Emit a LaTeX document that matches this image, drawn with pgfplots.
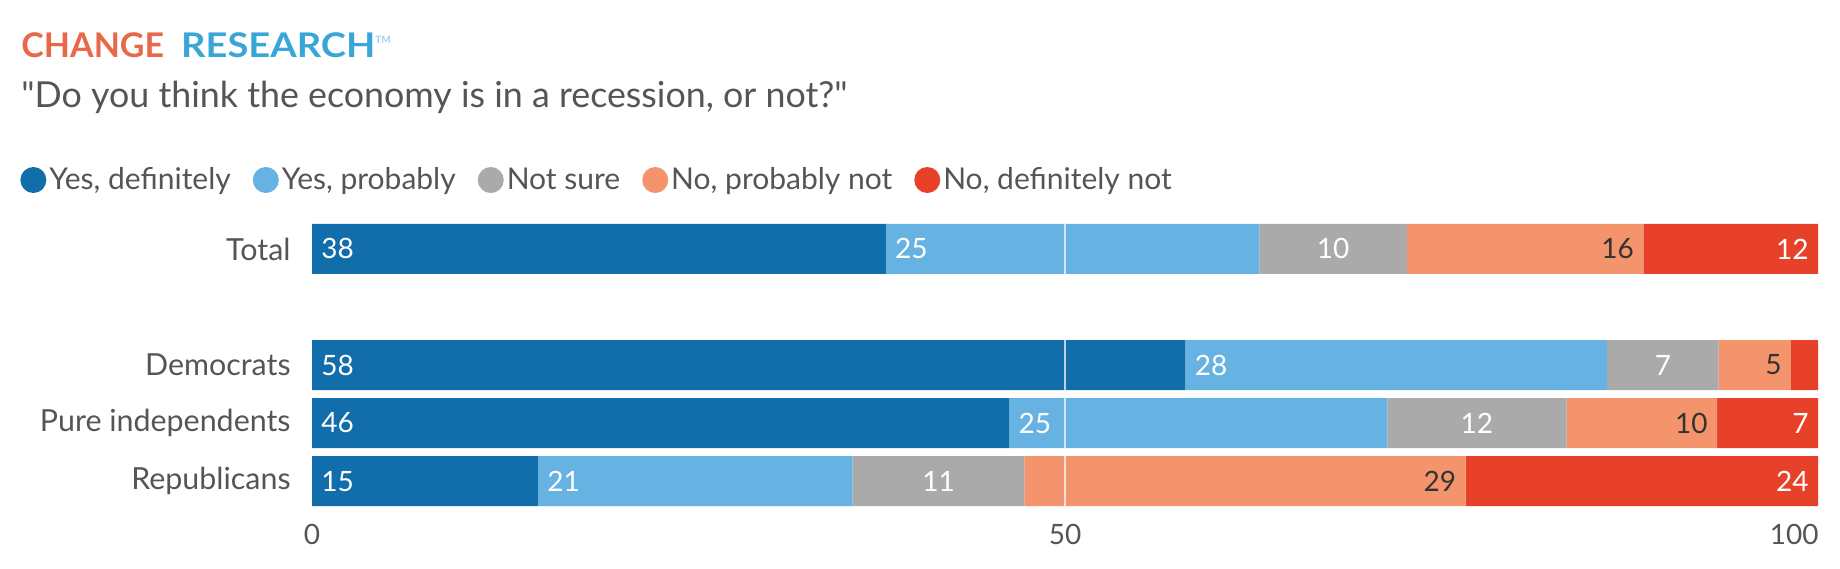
\documentclass[border=0pt]{standalone}
\usepackage{pgfplots}
\pgfplotsset{compat=1.18}
\usepackage{pgfplotstable}
\usepackage{fontspec}
\setmainfont{Lato}
\newfontfamily\latoq{Lato}
\definecolor{c1}{HTML}{116EAA}
\definecolor{c2}{HTML}{66B3E3}
\definecolor{c3}{HTML}{AAAAAA}
\definecolor{c4}{HTML}{F4946C}
\definecolor{c5}{HTML}{E8412A}
\definecolor{txt}{HTML}{555555}
\definecolor{dtxt}{HTML}{333333}
\definecolor{logoor}{HTML}{E8684A}
\definecolor{logobl}{HTML}{3AA6D8}
\pgfplotsset{dotleg/.style={legend image code/.code={\fill[##1] (6.5pt,0pt) circle (6.5pt);}}}
\pgfplotstableread{
y v1 v2 v3 v4 v5
0 15.0 20.9 11.4 29.3 23.4
1 46.3 25.1 11.9 10.0 6.7
2 58.0 28.0 7.4 4.8 1.8
4 38.1 24.8 9.8 15.7 11.6
}\bars
\pgfplotstableread{
x y lab
0 4 38
38.1 4 25
0 2 58
58.0 2 28
0 1 46
46.3 1 25
0 0 15
15.0 0 21
}\leftlabs
\pgfplotstableread{
x y lab
67.8 4 10
89.7 2 7
77.35 1 12
41.6 0 11
}\midlabs
\pgfplotstableread{
x y lab
88.4 4 16
98.2 2 5
93.3 1 10
76.6 0 29
}\orlabs
\pgfplotstableread{
x y lab
100 4 12
100 1 7
100 0 24
}\redlabs
\begin{document}
\begin{tikzpicture}
\useasboundingbox (0pt,0pt) rectangle (920pt,-284pt);
\node[anchor=west, inner sep=0, font=\fontsize{17}{17}\selectfont\bfseries] at (10.5pt,-22.5pt)
  {\textcolor{logoor}{CHANGE}\hspace{8.5pt}\textcolor{logobl}{\scalebox{1.12}[1]{RESEARCH}}\raisebox{7pt}{\textcolor{logobl!50}{\fontsize{5}{5}\selectfont TM}}};
\node[anchor=west, inner sep=0, text=txt, font=\latoq\fontsize{17.9}{17.9}\selectfont] at (10.5pt,-48.5pt)
  {"Do you think the economy is in a recession, or not?"};
\begin{axis}[
  at={(156pt,-256.5pt)}, anchor=south west, scale only axis,
  width=753pt, height=148pt,
  xbar stacked, bar width=25pt,
  xmin=0, xmax=100, ymin=-0.55, ymax=4.55,
  axis line style={draw=none}, major tick length=0pt,
  xtick={0,50}, ytick={0,1,2,4},
  extra x ticks={100},
  extra x tick style={xticklabel style={anchor=north east, xshift=0.5pt}},
  yticklabels={Republicans,Pure independents,Democrats,Total},
  /pgf/number format/assume math mode=true,
  xticklabel style={font=\fontsize{14}{14}\selectfont, text=txt, inner sep=0pt, yshift=-5.5pt},
  yticklabel style={font=\fontsize{15.2}{15.2}\selectfont, text=txt, inner sep=0pt, anchor=east, xshift=-10.5pt},
]
\addplot[fill=c1, draw=none] table[x=v1,y=y]{\bars};
\addplot[fill=c2, draw=none] table[x=v2,y=y]{\bars};
\addplot[fill=c3, draw=none] table[x=v3,y=y]{\bars};
\addplot[fill=c4, draw=none] table[x=v4,y=y]{\bars};
\addplot[fill=c5, draw=none] table[x=v5,y=y]{\bars};
\end{axis}
\begin{axis}[
  at={(156pt,-256.5pt)}, anchor=south west, scale only axis,
  width=753pt, height=148pt,
  xmin=0, xmax=100, ymin=-0.55, ymax=4.55,
  hide axis, clip=false,
  legend columns=5,
  legend style={at={(-0.1939,1.125)}, anchor=west, draw=none, fill=none, inner sep=0pt,
    font=\fontsize{15}{15}\selectfont, text=txt,
    nodes={inner sep=1.5pt},
    /tikz/every even column/.append style={column sep=9.5pt}},
  legend cell align=left,
]
\draw[white, line width=0.6pt, opacity=0.7] (axis cs:50,-0.43) -- (axis cs:50,4.43);
\addplot[forget plot, draw=none, mark=none, nodes near coords, point meta=explicit symbolic,
  every node near coord/.append style={anchor=west, xshift=4.5pt, inner sep=0pt, text=white, font=\fontsize{14}{14}\selectfont}]
  table[x=x,y=y,meta=lab]{\leftlabs};
\addplot[forget plot, draw=none, mark=none, nodes near coords, point meta=explicit symbolic,
  every node near coord/.append style={anchor=center, inner sep=0pt, text=white, font=\fontsize{14}{14}\selectfont}]
  table[x=x,y=y,meta=lab]{\midlabs};
\addplot[forget plot, draw=none, mark=none, nodes near coords, point meta=explicit symbolic,
  every node near coord/.append style={anchor=east, xshift=-4.5pt, inner sep=0pt, text=dtxt, font=\fontsize{14}{14}\selectfont}]
  table[x=x,y=y,meta=lab]{\orlabs};
\addplot[forget plot, draw=none, mark=none, nodes near coords, point meta=explicit symbolic,
  every node near coord/.append style={anchor=east, xshift=-4.5pt, inner sep=0pt, text=white, font=\fontsize{14}{14}\selectfont}]
  table[x=x,y=y,meta=lab]{\redlabs};
\addlegendimage{dotleg, fill=c1, draw=none}
\addlegendentry{Yes, definitely}
\addlegendimage{dotleg, fill=c2, draw=none}
\addlegendentry{Yes, probably}
\addlegendimage{dotleg, fill=c3, draw=none}
\addlegendentry{Not sure}
\addlegendimage{dotleg, fill=c4, draw=none}
\addlegendentry{No, probably not}
\addlegendimage{dotleg, fill=c5, draw=none}
\addlegendentry{No, definitely not}
\end{axis}
\end{tikzpicture}
\end{document}
